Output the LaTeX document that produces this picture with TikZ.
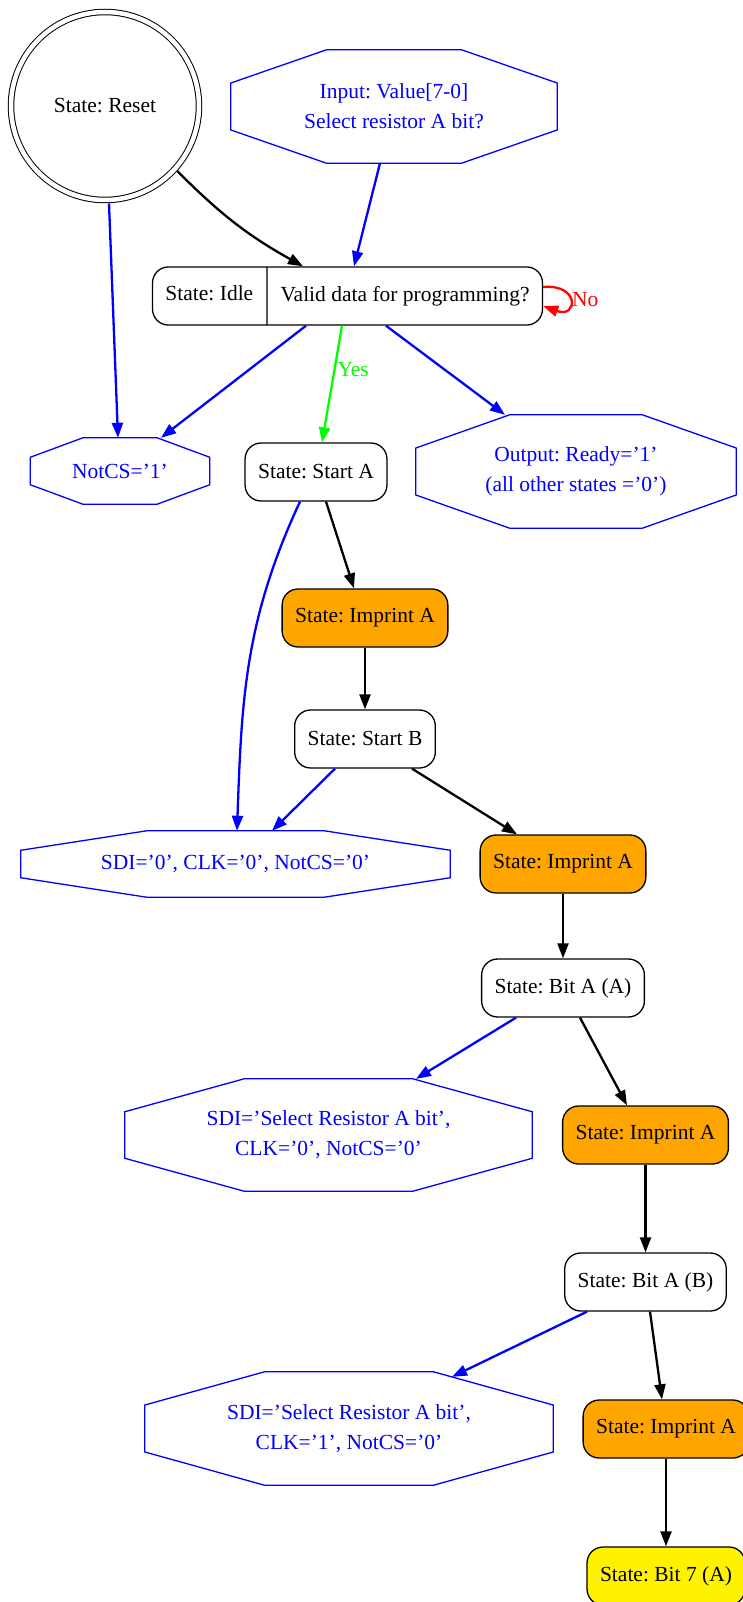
\documentclass[tikz,border=0pt]{standalone}
\usepackage{fontspec}
\setmainfont{Liberation Serif}
\usepackage{tikz}
\usetikzlibrary{arrows.meta,calc,shapes.multipart}

\definecolor{amber}{HTML}{FFA500}
\frenchspacing

\begin{document}
\begin{tikzpicture}[x=1pt,y=-1pt,>={Triangle[length=15pt,width=11pt]},node font=\fontsize{21.5}{30}\selectfont]
	\tikzstyle{statebox}=[draw,rounded corners=16pt,line width=1.3pt,inner xsep=13pt,minimum height=58pt]
	\tikzstyle{imprint}=[statebox,fill=amber]
	\tikzstyle{octbox}=[text=blue,align=center,inner sep=0pt]
	
	\fill[white] (0,0) rectangle (743,1602);
	\useasboundingbox (0,0) rectangle (743,1602);
	\clip (0,0) rectangle (743,1602);
	
	\node[draw,circle,double,double distance=4.5pt,line width=1pt,minimum size=188pt,outer sep=3.5pt] (RESET) at (105,106) {State: Reset};
	\node[octbox,minimum width=326pt,minimum height=113pt] (INPUT) at (394,106.5) {Input: Value[7-0]\\Select resistor A bit?};
	\node[statebox,rectangle split,rectangle split horizontal,rectangle split parts=2,inner ysep=19pt,text height=15pt,text depth=5pt] (IDLE) at (347.5,296) {State: Idle\nodepart{two}Valid data for programming?};
	\node[octbox,minimum width=179pt,minimum height=66pt] (NOTCS) at (120,471) {NotCS='1'};
	\node[statebox] (STARTA) at (316,472) {State: Start A};
	\node[octbox,minimum width=320pt,minimum height=113pt] (READY) at (576,471.5) {Output: Ready='1'\\(all other states ='0')};
	\node[imprint] (IMPA1) at (365,618) {State: Imprint A};
	\node[statebox] (STARTB) at (365,739) {State: Start B};
	\node[octbox,minimum width=429pt,minimum height=66pt] (SDIZERO) at (235.5,864) {SDI='0', CLK='0', NotCS='0'};
	\node[imprint] (IMPA2) at (563,864) {State: Imprint A};
	\node[statebox] (BITAA) at (563,988) {State: Bit A (A)};
	\node[octbox,minimum width=407pt,minimum height=112pt] (SELZERO) at (328.5,1135) {SDI='Select Resistor A bit',\\CLK='0', NotCS='0'};
	\node[imprint] (IMPA3) at (645.5,1135) {State: Imprint A};
	\node[statebox] (BITAB) at (645.5,1282) {State: Bit A (B)};
	\node[octbox,minimum width=408pt,minimum height=113pt] (SELONE) at (349,1428.5) {SDI='Select Resistor A bit',\\CLK='1', NotCS='0'};
	\node[imprint] (IMPA4) at (666,1429) {State: Imprint A};
	\node[statebox,fill=yellow] (BITSEVEN) at (666,1576) {State: Bit 7 (A)};
	
	% octagon outlines round the output boxes
	\foreach \o in {INPUT,NOTCS,READY,SDIZERO,SELZERO,SELONE}
		\draw[blue,line width=1.3pt]
			($(\o.north)!.414!(\o.north west)$) -- ($(\o.north)!.414!(\o.north east)$)
			-- ($(\o.east)!.414!(\o.north east)$) -- ($(\o.east)!.414!(\o.south east)$)
			-- ($(\o.south)!.414!(\o.south east)$) -- ($(\o.south)!.414!(\o.south west)$)
			-- ($(\o.west)!.414!(\o.south west)$) -- ($(\o.west)!.414!(\o.north west)$)
			-- cycle;
	
	\path[->,line width=2.3pt]
	(RESET.-42) edge [bend right=8] ([xshift=-44.5pt]IDLE.north)
	([xshift=-14pt]INPUT.south) edge [blue] ([xshift=6.5pt]IDLE.north)
	([xshift=4pt]RESET.south) edge [blue] ([xshift=-2pt]NOTCS.north)
	([xshift=-41.5pt]IDLE.south) edge [blue] ([xshift=41pt]NOTCS.north)
	([xshift=-5.5pt]IDLE.south) edge [green] node [pos=0.38,right,inner sep=2pt] {Yes} ([xshift=6pt]STARTA.north)
	([xshift=38.5pt]IDLE.south) edge [blue] ([xshift=-71pt]READY.north)
	([yshift=9pt]IDLE.east) edge [red,out=5,in=-20,looseness=5] node [right,inner sep=1pt] {No} ([yshift=-10pt]IDLE.east)
	([xshift=10pt]STARTA.south) edge ([xshift=-11pt]IMPA1.north)
	([xshift=-16pt]STARTA.south) edge [blue,out=-115,in=88] ([xshift=1.5pt]SDIZERO.north)
	(IMPA1) edge (STARTB)
	([xshift=-30pt]STARTB.south) edge [blue] ([xshift=36.5pt]SDIZERO.north)
	([xshift=47pt]STARTB.south) edge ([xshift=-46pt]IMPA2.north)
	(IMPA2) edge (BITAA)
	([xshift=-47pt]BITAA.south) edge [blue] ([xshift=87.5pt]SELZERO.north)
	([xshift=17pt]BITAA.south) edge ([xshift=-18.5pt]IMPA3.north)
	(IMPA3) edge (BITAB)
	([xshift=-58.5pt]BITAB.south) edge [blue] ([xshift=103pt,yshift=-5pt]SELONE.north)
	([xshift=4.5pt]BITAB.south) edge ([xshift=-4pt]IMPA4.north)
	(IMPA4) edge (BITSEVEN);
\end{tikzpicture}
\end{document}
